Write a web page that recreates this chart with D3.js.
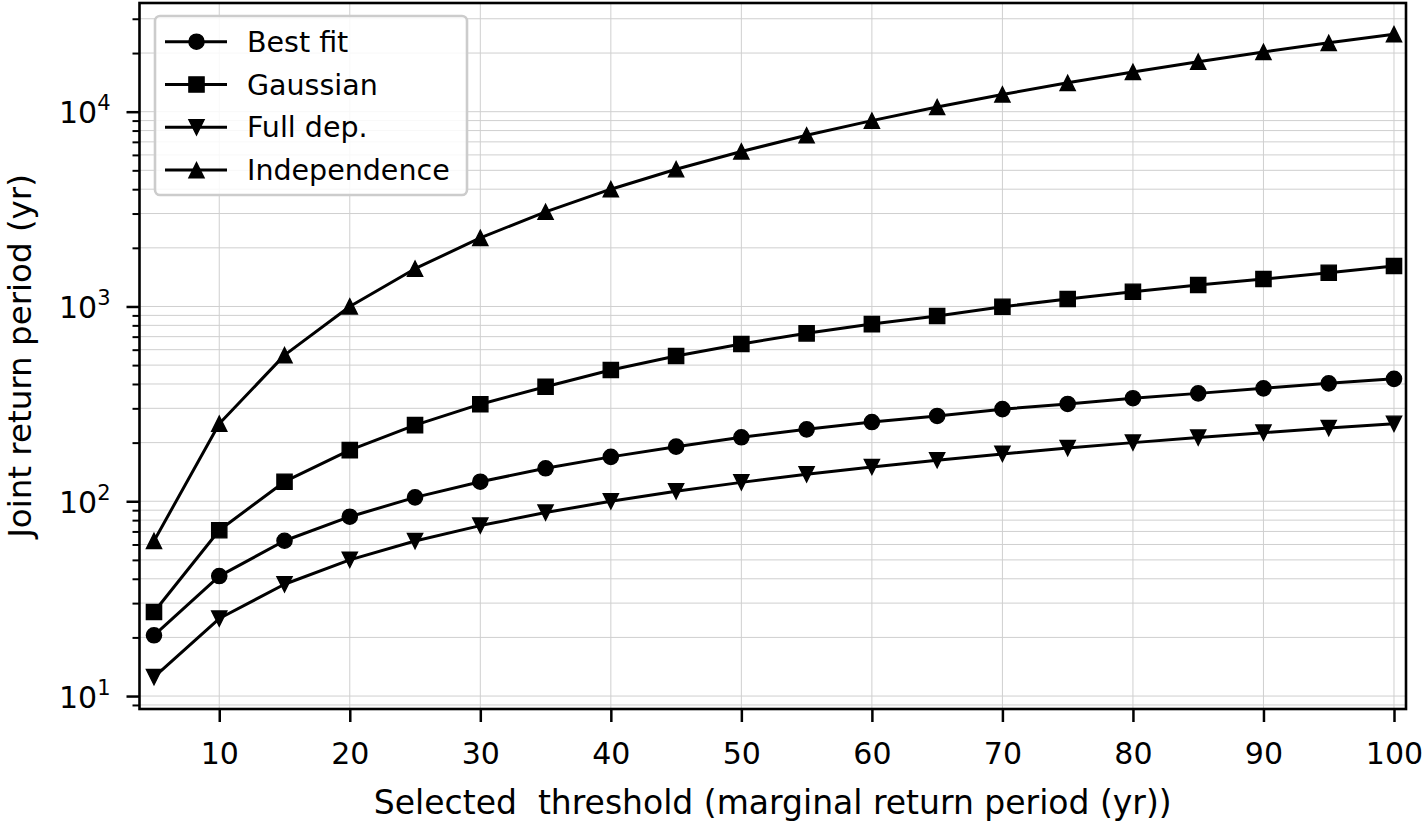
<!DOCTYPE html>
<html>
<head>
<meta charset="utf-8">
<script src="https://cdn.jsdelivr.net/npm/d3@7"></script>
<style>
  html, body { margin: 0; padding: 0; background: #ffffff; }
  svg { display: block; font-family: "DejaVu Sans", sans-serif; }
</style>
</head>
<body>
<svg id="chart" width="1427" height="821"></svg>
<script>
// ---------------- data ----------------
const thresholds = [5, 10, 15, 20, 25, 30, 35, 40, 45, 50, 55, 60, 65, 70, 75, 80, 85, 90, 95, 100];
const bestFit = [20.5, 41.3, 62.7, 83.3, 104.7, 126, 147.6, 169, 190.7, 213, 234, 255, 274, 297, 316, 338, 358, 380, 403, 425];
const gaussian = [27, 71, 126, 183, 246, 315, 387, 472, 557, 642, 728, 812, 893, 997, 1092, 1190, 1289, 1383, 1490, 1614];
const fullDep = [12.5, 25, 37.5, 50, 62.5, 75, 87.5, 100, 112.5, 125, 137.5, 150, 162.5, 175, 187.5, 200, 212.5, 225, 237.5, 250];
const independence = [62.5, 250, 562.5, 1000, 1562.5, 2250, 3062.5, 4000, 5062.5, 6250, 7562.5, 9000, 10562.5, 12250, 14062.5, 16000, 18062.5, 20250, 22562.5, 25000];
const seriesNames = ["Best fit", "Gaussian", "Full dep.", "Independence"];
const seriesMarkers = ["circle", "square", "triangleDown", "triangleUp"];
const xTickValues = [10, 20, 30, 40, 50, 60, 70, 80, 90, 100];
const yMajorTicks = [10, 100, 1000, 10000];
const yMajorExponents = ["1", "2", "3", "4"];
const xLabel = "Selected\u00a0 threshold (marginal return period (yr))";
const yLabel = "Joint return period (yr)";

(function () {
// ---------------- layout ----------------
const svg = d3.select("#chart");
const pLeft = 139.5, pRight = 1406, pTop = 3, pBottom = 709;

const x = d3.scaleLinear().domain([3.89, 100.92]).range([pLeft, pRight]);
const y = d3.scaleLog().domain([8.58, 36140]).range([pBottom, pTop]);

// minor y ticks
const yMinorTicks = [];
[1, 10, 100, 1000, 10000].forEach(dec => {
  for (let k = 2; k <= 9; k++) {
    const v = dec * k;
    if (v >= y.domain()[0] && v <= y.domain()[1]) yMinorTicks.push(v);
  }
});

const gridColor = "#cfcfcf";
const grid = svg.append("g");
grid.selectAll("line.gy").data(yMajorTicks.concat(yMinorTicks))
  .enter().append("line")
  .attr("x1", pLeft).attr("x2", pRight)
  .attr("y1", d => y(d)).attr("y2", d => y(d))
  .attr("stroke", gridColor).attr("stroke-width", 1);
grid.selectAll("line.gx").data(xTickValues).enter().append("line")
  .attr("x1", d => x(d)).attr("x2", d => x(d))
  .attr("y1", pTop).attr("y2", pBottom)
  .attr("stroke", gridColor).attr("stroke-width", 1);

// ---------------- series ----------------
const allSeries = [bestFit, gaussian, fullDep, independence];
const ms = 15.2;
function markerPath(type) {
  const h = ms / 2;
  if (type === "square") return `M${-h},${-h}H${h}V${h}H${-h}Z`;
  if (type === "triangleUp") return `M0,${-h}L${h},${h}L${-h},${h}Z`;
  if (type === "triangleDown") return `M0,${h}L${h},${-h}L${-h},${-h}Z`;
  return null;
}
function drawMarker(g, type, cx, cy) {
  if (type === "circle") {
    g.append("circle").attr("cx", cx).attr("cy", cy).attr("r", ms / 2)
      .attr("fill", "#000").attr("stroke", "#000").attr("stroke-width", 1.4);
  } else {
    g.append("path").attr("d", markerPath(type))
      .attr("transform", `translate(${cx},${cy})`)
      .attr("fill", "#000").attr("stroke", "#000").attr("stroke-width", 1.4)
      .attr("stroke-linejoin", "miter");
  }
}
const line = d3.line().x(d => x(d[0])).y(d => y(d[1]));
allSeries.forEach((vals, i) => {
  const pts = thresholds.map((t, j) => [t, vals[j]]);
  const g = svg.append("g");
  g.append("path").attr("d", line(pts)).attr("fill", "none")
    .attr("stroke", "#000").attr("stroke-width", 3).attr("stroke-linejoin", "round");
  pts.forEach(p => drawMarker(g, seriesMarkers[i], x(p[0]), y(p[1])));
});

// ---------------- axes ----------------
const tickW = 2.5;
const xAxis = svg.append("g").attr("transform", `translate(0,${pBottom})`)
  .call(d3.axisBottom(x).tickValues(xTickValues).tickSize(13).tickPadding(0).tickFormat(d3.format("d")));
xAxis.select(".domain").remove();
xAxis.selectAll(".tick line").attr("stroke", "#000").attr("stroke-width", tickW);
xAxis.selectAll(".tick text").attr("font-size", 30).attr("fill", "#000")
  .attr("font-family", "DejaVu Sans").attr("dy", null).attr("y", 55);

const yAxis = svg.append("g").attr("transform", `translate(${pLeft},0)`)
  .call(d3.axisLeft(y).tickValues(yMajorTicks).tickSize(13).tickFormat(""));
yAxis.select(".domain").remove();
yAxis.selectAll(".tick line").attr("stroke", "#000").attr("stroke-width", tickW);
yAxis.selectAll(".tick").each(function (d) {
  const t = d3.select(this).append("text")
    .attr("x", -29).attr("y", 11).attr("text-anchor", "end")
    .attr("font-size", 30).attr("fill", "#000").attr("font-family", "DejaVu Sans");
  t.append("tspan").text("10");
  t.append("tspan").attr("font-size", 21).attr("dy", -13).text(yMajorExponents[yMajorTicks.indexOf(d)]);
});

const yMinorAxis = svg.append("g").attr("transform", `translate(${pLeft},0)`)
  .call(d3.axisLeft(y).tickValues(yMinorTicks).tickSize(7).tickFormat(""));
yMinorAxis.select(".domain").remove();
yMinorAxis.selectAll(".tick line").attr("stroke", "#000").attr("stroke-width", 2);

// frame
svg.append("rect").attr("x", pLeft).attr("y", pTop)
  .attr("width", pRight - pLeft).attr("height", pBottom - pTop)
  .attr("fill", "none").attr("stroke", "#000").attr("stroke-width", 2.6);

// ---------------- labels ----------------
svg.append("text").attr("x", (pLeft + pRight) / 2).attr("y", 814)
  .attr("text-anchor", "middle").attr("font-size", 33).attr("fill", "#000")
  .text(xLabel);
svg.append("text").attr("transform", `translate(31,${(pTop + pBottom) / 2}) rotate(-90)`)
  .attr("text-anchor", "middle").attr("font-size", 32.5).attr("fill", "#000")
  .text(yLabel);

// ---------------- legend ----------------
const lg = svg.append("g");
lg.append("rect").attr("x", 155).attr("y", 16).attr("width", 312).attr("height", 179)
  .attr("rx", 5).attr("ry", 5)
  .attr("fill", "#fff").attr("fill-opacity", 0.85)
  .attr("stroke", "#cccccc").attr("stroke-width", 2.6);
seriesNames.forEach((name, i) => {
  const cy = 41.7 + i * 42.8;
  lg.append("line").attr("x1", 165).attr("x2", 227).attr("y1", cy).attr("y2", cy)
    .attr("stroke", "#000").attr("stroke-width", 3);
  drawMarker(lg, seriesMarkers[i], 196.5, cy);
  lg.append("text").attr("x", 247).attr("y", cy + 10)
    .attr("font-size", 28.5).attr("fill", "#000").text(name);
});
})();
</script>
</body>
</html>
